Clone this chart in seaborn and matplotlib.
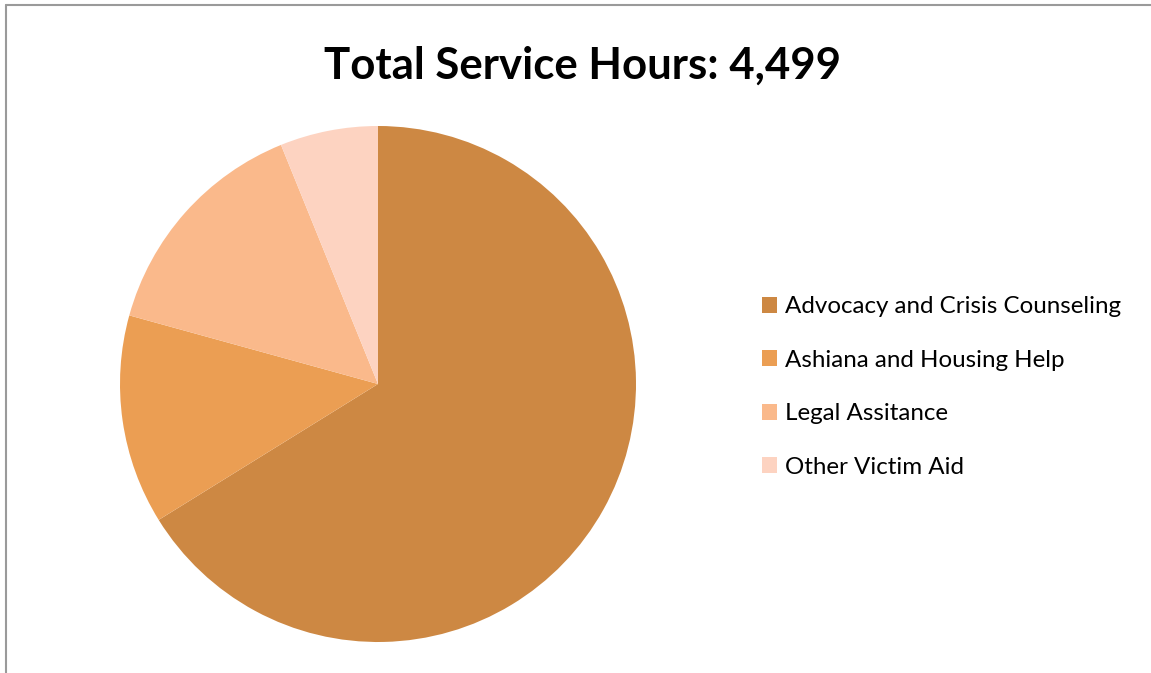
import matplotlib
matplotlib.use("Agg")
import matplotlib.pyplot as plt
from matplotlib.lines import Line2D
import seaborn as sns

categories = ["Advocacy and Crisis Counseling", "Ashiana and Housing Help",
              "Legal Assitance", "Other Victim Aid"]
hours = [2977, 590, 656, 276]
colors = ["#CD8843", "#EB9E53", "#FAB98B", "#FDD3C1"]
title = "Total Service Hours: 4,499"

sns.set_theme(style="white")
plt.rcParams['font.family'] = ['Lato', 'DejaVu Sans']
palette = sns.color_palette(colors)

W, H = 1151, 673
fig = plt.figure(figsize=(W / 100, H / 100), dpi=100)
fig.patch.set_facecolor("white")

cx, cy, r = 378, 384, 258
ax = fig.add_axes([(cx - r) / W, (H - cy - r) / H, 2 * r / W, 2 * r / H])
wedges, _ = ax.pie(hours, colors=palette, startangle=90, counterclock=False,
                   radius=1, wedgeprops=dict(linewidth=0))
ax.set_xlim(-1, 1)
ax.set_ylim(-1, 1)
ax.set_aspect("equal")
ax.axis("off")

fig.text(582 / W, 1 - 66 / H, title, ha="center", va="center",
         fontsize=31.5, fontweight="bold", color="black")

fig.legend(wedges, categories, loc="center left",
           bbox_to_anchor=(750 / W, 1 - 387 / H), frameon=False,
           fontsize=17.4, handlelength=0.62, handleheight=0.62,
           handletextpad=0.33, labelspacing=1.34, borderpad=0,
           labelcolor="black")

# thin grey frame lines (top and left)
fig.add_artist(Line2D([6 / W, 1], [1 - 5 / H, 1 - 5 / H], color="#9a9a9a",
                      linewidth=1.5, transform=fig.transFigure))
fig.add_artist(Line2D([6 / W, 6 / W], [0, 1 - 5 / H], color="#9a9a9a",
                      linewidth=1.5, transform=fig.transFigure))

fig.savefig("out.png", dpi=100, facecolor="white")
